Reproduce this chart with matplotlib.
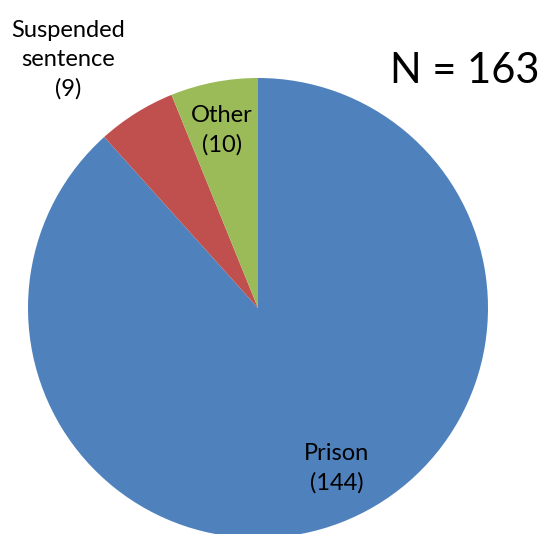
import matplotlib
matplotlib.use('Agg')
import matplotlib.pyplot as plt

# sentence outcomes, drawn clockwise from 12 o'clock
categories = ['Prison', 'Suspended\nsentence', 'Other']
counts = [144, 9, 10]
colors = ['#4F81BD', '#C0504D', '#9BBB59']
total = sum(counts)

plt.rcParams['font.family'] = ['Lato', 'DejaVu Sans']

fig = plt.figure(figsize=(5.41, 5.34), dpi=100)
ax = fig.add_axes([0, 0, 1, 1])

cx, cy, r = 258, 226, 230
ax.pie(counts, colors=colors, startangle=90, counterclock=False,
       center=(cx, cy), radius=r, frame=True)
ax.set_xlim(0, 541)
ax.set_ylim(0, 534)
ax.set_aspect('equal')
ax.axis('off')

# label centres in pixel units (origin bottom-left)
lab_pos = [(337, 66), (68, 474), (222, 404)]
for (x, y), name, n in zip(lab_pos, categories, counts):
    ax.text(x, y, '%s\n(%d)' % (name, n), ha='center', va='center',
            fontsize=17, linespacing=1.45, color='black')

ax.text(465, 463, 'N = %d' % total, ha='center', va='center', fontsize=30)

fig.savefig('out.png', dpi=100)
